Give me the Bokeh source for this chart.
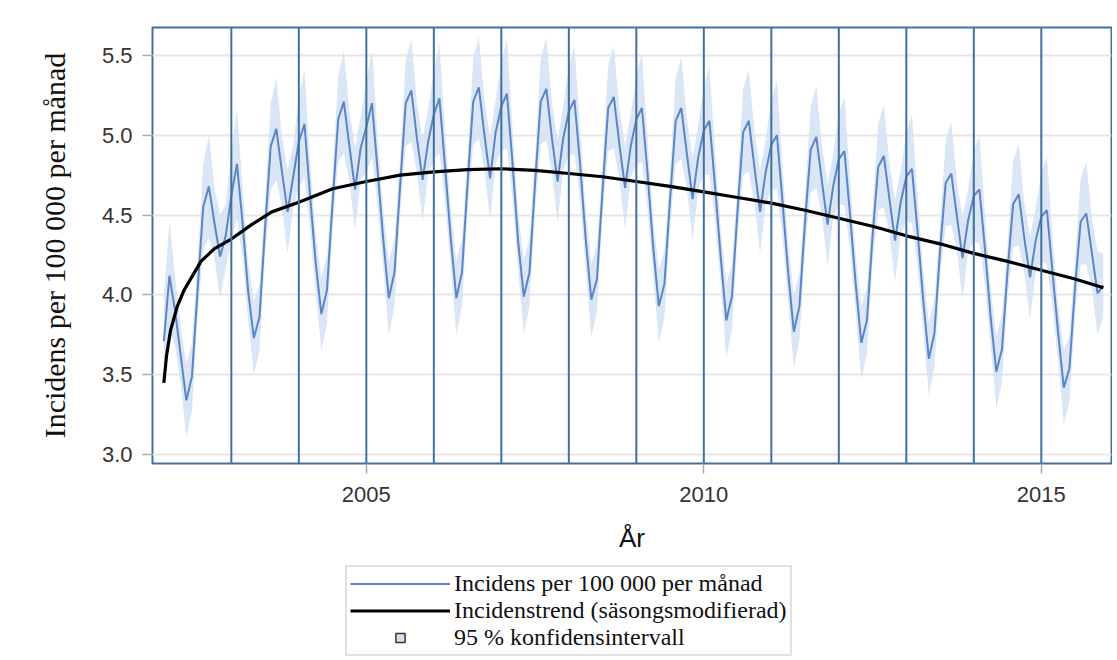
from bokeh.plotting import figure
from bokeh.layouts import column
from bokeh.models import Span, FixedTicker, Legend, LegendItem, Range1d, PrintfTickFormatter
from bokeh.embed import file_html
from bokeh.resources import INLINE

# ---- data ----
first_year = 2002
inc_2002 = [3.71, 4.12, 3.90, 3.62, 3.34, 3.49, 4.03, 4.55, 4.68, 4.45, 4.24, 4.37]
inc_2003 = [4.62, 4.82, 4.45, 4.02, 3.73, 3.86, 4.42, 4.93, 5.04, 4.77, 4.52, 4.74]
inc_2004 = [4.96, 5.07, 4.62, 4.20, 3.88, 4.03, 4.58, 5.10, 5.21, 4.93, 4.66, 4.92]
inc_2005 = [5.05, 5.20, 4.78, 4.35, 3.98, 4.14, 4.68, 5.20, 5.28, 4.98, 4.72, 4.96]
inc_2006 = [5.13, 5.23, 4.80, 4.36, 3.98, 4.14, 4.70, 5.21, 5.30, 5.00, 4.73, 5.02]
inc_2007 = [5.18, 5.26, 4.82, 4.33, 3.99, 4.14, 4.70, 5.21, 5.29, 4.98, 4.71, 4.98]
inc_2008 = [5.15, 5.22, 4.82, 4.35, 3.97, 4.10, 4.66, 5.17, 5.24, 4.94, 4.67, 4.93]
inc_2009 = [5.10, 5.17, 4.76, 4.30, 3.93, 4.07, 4.60, 5.09, 5.17, 4.88, 4.60, 4.86]
inc_2010 = [5.03, 5.09, 4.68, 4.24, 3.84, 3.99, 4.53, 5.02, 5.09, 4.80, 4.52, 4.77]
inc_2011 = [4.94, 5.00, 4.58, 4.14, 3.77, 3.93, 4.46, 4.91, 4.99, 4.71, 4.44, 4.68]
inc_2012 = [4.85, 4.90, 4.50, 4.07, 3.70, 3.84, 4.37, 4.80, 4.87, 4.60, 4.34, 4.58]
inc_2013 = [4.74, 4.79, 4.40, 3.97, 3.60, 3.76, 4.28, 4.70, 4.76, 4.49, 4.23, 4.47]
inc_2014 = [4.62, 4.66, 4.28, 3.86, 3.52, 3.66, 4.15, 4.57, 4.63, 4.35, 4.11, 4.34]
inc_2015 = [4.49, 4.53, 4.14, 3.76, 3.42, 3.54, 4.05, 4.46, 4.51, 4.26, 4.01, 4.06]

# half-width of the 95 % band by calendar month (Jan..Dec)
ci_half = [0.28, 0.34, 0.22, 0.18, 0.23, 0.21, 0.17, 0.27, 0.32, 0.22, 0.26, 0.20]

# seasonally adjusted trend (time in years, value)
trend_t = [2002.0, 2002.04, 2002.1, 2002.2, 2002.3, 2002.55, 2002.75, 2003.0, 2003.3, 2003.6,
           2004.0, 2004.5, 2005.0, 2005.5, 2006.0, 2006.5, 2007.0, 2007.5, 2008.0, 2008.5,
           2009.0, 2009.5, 2010.0, 2010.5, 2011.0, 2011.5, 2012.0, 2012.5, 2013.0, 2013.5,
           2014.0, 2014.5, 2015.0, 2015.5, 2015.92]
trend_v = [3.45, 3.62, 3.78, 3.93, 4.03, 4.21, 4.29, 4.35, 4.44, 4.52,
           4.58, 4.665, 4.71, 4.75, 4.77, 4.785, 4.79, 4.78, 4.76, 4.74,
           4.71, 4.68, 4.645, 4.61, 4.575, 4.53, 4.48, 4.43, 4.37, 4.32,
           4.26, 4.21, 4.155, 4.10, 4.045]

year_lines = list(range(2003, 2016))
y_ticks = [3.0, 3.5, 4.0, 4.5, 5.0, 5.5]
x_ticks = [2005, 2010, 2015]

labels = ["Incidens per 100 000 per månad",
          "Incidenstrend (säsongsmodifierad)",
          "95 % konfidensintervall"]

# ---- assemble monthly series ----
yearly = [inc_2002, inc_2003, inc_2004, inc_2005, inc_2006, inc_2007, inc_2008,
          inc_2009, inc_2010, inc_2011, inc_2012, inc_2013, inc_2014, inc_2015]
t, v, lo, hi = [], [], [], []
for yi, vals in enumerate(yearly):
    for m, val in enumerate(vals):
        t.append(first_year + yi + m / 12)
        v.append(val)
        lo.append(val - ci_half[m])
        hi.append(val + ci_half[m])

FRAME_BLUE = "#41709f"
LINE_BLUE = "#5b86c4"
BAND = "#d3e1f3"

# ---------------- main chart ----------------
p = figure(width=1112, height=565, output_backend="svg", toolbar_location=None,
           x_range=Range1d(2001.832, 2016.04), y_range=Range1d(2.945, 5.674),
           min_border_left=152, min_border_right=1, min_border_top=27, min_border_bottom=102)

p.background_fill_color = "white"
p.border_fill_color = "white"
p.outline_line_color = FRAME_BLUE
p.outline_line_width = 2

p.xgrid.visible = False
p.ygrid.grid_line_color = "#e6e6e6"
p.ygrid.grid_line_width = 2

p.varea(x=t, y1=lo, y2=hi, fill_color=BAND, fill_alpha=0.85)
p.line(t, v, line_color=LINE_BLUE, line_width=2)
p.line(trend_t, trend_v, line_color="black", line_width=3.2)

for yr in year_lines:
    p.add_layout(Span(location=yr, dimension="height", line_color=FRAME_BLUE, line_width=2))

for ax in (p.xaxis[0], p.yaxis[0]):
    ax.axis_line_color = None
    ax.major_tick_line_color = "#aaaaaa"
    ax.major_tick_line_width = 1.5
    ax.major_tick_in = 0
    ax.major_tick_out = 10
    ax.minor_tick_line_color = None
    ax.major_label_text_font = "Liberation Sans"
    ax.major_label_text_font_size = "22px"
    ax.major_label_text_color = "#333333"
    ax.major_label_standoff = 10

p.xaxis[0].major_label_standoff = 13

p.yaxis[0].ticker = FixedTicker(ticks=y_ticks)
p.yaxis[0].formatter = PrintfTickFormatter(format="%.1f")
p.xaxis[0].ticker = FixedTicker(ticks=x_ticks)

p.yaxis[0].axis_label = "Incidens per 100 000 per månad"
p.yaxis[0].axis_label_text_font = "Liberation Serif"
p.yaxis[0].axis_label_text_font_size = "30px"
p.yaxis[0].axis_label_text_font_style = "normal"
p.yaxis[0].axis_label_text_color = "#111111"
p.yaxis[0].axis_label_standoff = 28

p.xaxis[0].axis_label = "År"
p.xaxis[0].axis_label_text_font = "Liberation Sans"
p.xaxis[0].axis_label_text_font_size = "26px"
p.xaxis[0].axis_label_text_font_style = "normal"
p.xaxis[0].axis_label_text_color = "#111111"
p.xaxis[0].axis_label_standoff = 18

# ---------------- legend strip ----------------
q = figure(width=1112, height=94, output_backend="svg", toolbar_location=None,
           x_range=Range1d(0, 1), y_range=Range1d(0, 1), min_border=0,
           x_axis_location=None, y_axis_location=None)
q.grid.visible = False
q.outline_line_color = None
q.background_fill_color = "white"
q.border_fill_color = "white"

# legend-only renderers, placed outside the visible range
l1 = q.line(x=[5, 6], y=[5, 6], line_color=LINE_BLUE, line_width=2)
l2 = q.line(x=[5, 6], y=[5, 6], line_color="black", line_width=3.2)
l3 = q.scatter(x=[5], y=[5], marker="square", size=12, fill_color=BAND,
               line_color="#333333", line_width=1.5)

legend = Legend(items=[LegendItem(label=labels[0], renderers=[l1]),
                       LegendItem(label=labels[1], renderers=[l2]),
                       LegendItem(label=labels[2], renderers=[l3])],
                location=(193, 3), glyph_width=100, glyph_height=23,
                label_height=23, label_standoff=4, padding=3, spacing=0, margin=0,
                border_line_color="#c4c4c4", border_line_width=2,
                background_fill_color="white", background_fill_alpha=1,
                label_text_font="Liberation Serif", label_text_font_size="24px",
                label_text_color="#111111")
q.add_layout(legend)

layout = column(p, q, spacing=0)
open("out.html", "w").write(file_html(layout, INLINE))
